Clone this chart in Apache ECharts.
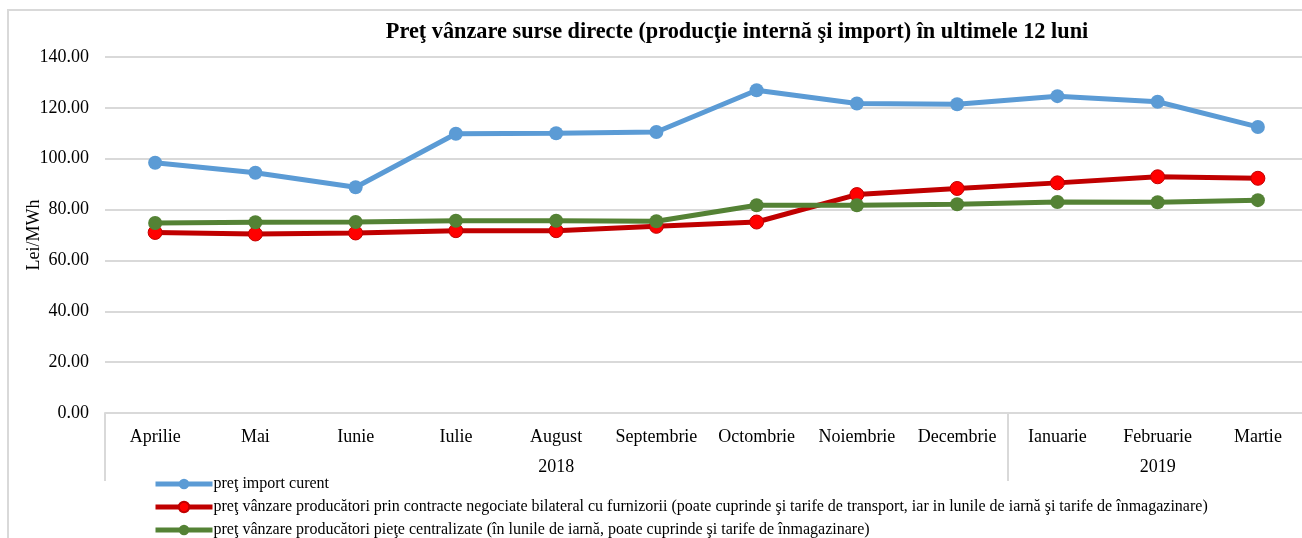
<!DOCTYPE html>
<html>
<head>
<meta charset="utf-8">
<script src="https://cdn.jsdelivr.net/npm/echarts@6/dist/echarts.min.js"></script>
<style>
  html, body { margin: 0; background: #fff; overflow: hidden; width: 1302px; height: 538px; }
  #frame { position: absolute; left: 7px; top: 9px; width: 1320px; height: 560px; border: 2px solid #d9d9d9; }
  #chart { position: absolute; left: 0; top: 0; width: 1330px; height: 538px; }
</style>
</head>
<body>
<div id="frame"></div>
<div id="chart"></div>
<script>
// luni si ani
const months = ['Aprilie', 'Mai', 'Iunie', 'Iulie', 'August', 'Septembrie', 'Octombrie', 'Noiembrie', 'Decembrie', 'Ianuarie', 'Februarie', 'Martie'];
const yearLabels = { 4.5: '2018', 10.5: '2019' };   // centrul fiecarui an pe axa
const yearBounds = [0, 9, 12];

// valori Lei/MWh
const importCurent = [98.4, 94.5, 88.8, 109.8, 110.0, 110.5, 126.9, 121.7, 121.4, 124.6, 122.4, 112.5];
const bilateral = [71.0, 70.4, 70.8, 71.7, 71.7, 73.4, 75.1, 85.9, 88.3, 90.5, 92.9, 92.3];
const centralizate = [74.7, 75.0, 75.1, 75.6, 75.6, 75.4, 81.7, 81.7, 82.1, 83.0, 82.9, 83.7];

const legendNames = [
  'preţ import curent',
  'preţ vânzare producători prin contracte negociate bilateral cu furnizorii (poate cuprinde şi tarife de transport, iar in lunile de iarnă şi tarife de înmagazinare)',
  'preţ vânzare producători pieţe centralizate (în lunile de iarnă, poate cuprinde şi tarife de înmagazinare)'
];

const font = 'Liberation Serif';
const chart = echarts.init(document.getElementById('chart'));

const option = {
  animation: false,
  textStyle: { fontFamily: font, color: '#000' },
  title: {
    text: 'Preţ vânzare surse directe (producţie internă şi import) în ultimele 12 luni',
    left: 732,
    top: 16,
    textAlign: 'center',
    textStyle: { fontFamily: font, fontSize: 22.3, fontWeight: 'bold', color: '#000' }
  },
  legend: {
    orient: 'vertical',
    left: 148,
    top: 471,
    height: 120,
    itemGap: 7,
    itemWidth: 57,
    itemHeight: 13,
    lineStyle: { width: 5 },
    textStyle: { fontFamily: font, fontSize: 16, color: '#000', padding: [0, 0, 0, -4] },
    data: legendNames
  },
  grid: { left: 105, top: 57, width: 1203, height: 356, containLabel: false },
  xAxis: [
    {
      type: 'category',
      data: months,
      boundaryGap: true,
      axisLine: { lineStyle: { color: '#d9d9d9', width: 2 } },
      axisTick: { show: false },
      axisLabel: { fontFamily: font, fontSize: 18, color: '#000', margin: 15, interval: 0 }
    },
    {
      type: 'value',
      position: 'bottom',
      min: 0,
      max: 12,
      axisLine: { show: false },
      splitLine: { show: false },
      axisTick: { show: true, customValues: yearBounds, length: 68, lineStyle: { color: '#d9d9d9', width: 2 } },
      axisLabel: {
        customValues: [4.5, 10.5],
        formatter: v => yearLabels[v] || '',
        fontFamily: font, fontSize: 18, color: '#000', margin: 45
      }
    }
  ],
  yAxis: {
    type: 'value',
    min: 0,
    max: 140,
    interval: 20,
    name: 'Lei/MWh',
    nameLocation: 'middle',
    nameGap: 62,
    nameMoveOverlap: false,
    nameRotate: 90,
    nameTextStyle: { fontFamily: font, fontSize: 18, color: '#000' },
    axisLine: { show: false },
    axisTick: { show: false },
    axisLabel: { formatter: v => v.toFixed(2), fontFamily: font, fontSize: 18, color: '#000', margin: 16 },
    splitLine: { lineStyle: { color: '#d9d9d9', width: 2 } }
  },
  series: [
    {
      name: legendNames[0],
      type: 'line',
      data: importCurent,
      symbol: 'circle',
      symbolSize: 14,
      lineStyle: { color: '#5B9BD5', width: 5 },
      itemStyle: { color: '#5B9BD5' },
      z: 3
    },
    {
      name: legendNames[1],
      type: 'line',
      data: bilateral,
      symbol: 'circle',
      symbolSize: 14,
      lineStyle: { color: '#C00000', width: 5 },
      itemStyle: { color: '#FF0000', borderColor: '#C00000', borderWidth: 1 },
      z: 2
    },
    {
      name: legendNames[2],
      type: 'line',
      data: centralizate,
      symbol: 'circle',
      symbolSize: 14,
      lineStyle: { color: '#548235', width: 5 },
      itemStyle: { color: '#548235' },
      z: 4
    }
  ]
};

chart.setOption(option);
</script>
</body>
</html>
